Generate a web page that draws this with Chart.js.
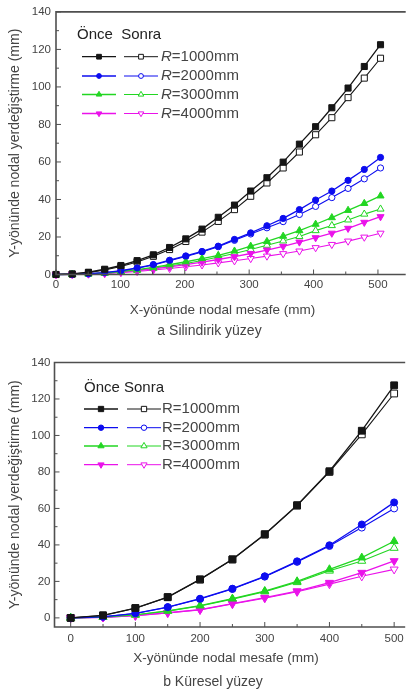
<!DOCTYPE html>
<html>
<head>
<meta charset="utf-8">
<script src="https://cdn.jsdelivr.net/npm/chart.js@4.4.1/dist/chart.umd.min.js"></script>
<style>
  html, body { margin: 0; padding: 0; background: #fff; width: 409px; height: 692px; overflow: hidden; }
  .wrap { position: absolute; left: 0; width: 409px; }
  #w1 { top: 0; height: 345px; }
  #w2 { top: 345px; height: 347px; }
</style>
</head>
<body>
<div class="wrap" id="w1"><canvas id="c1"></canvas></div>
<div class="wrap" id="w2"><canvas id="c2"></canvas></div>
<script>
// ---- (a) Silindirik yüzey: node positions along X (mm) ----
const cylX = [0, 25.2, 50.4, 75.6, 100.8, 126, 151.2, 176.4, 201.6, 226.8, 252, 277.2, 302.4, 327.6, 352.8, 378, 403.2, 428.4, 453.6, 478.8, 504];
// Y displacement before (Önce) and after (Sonra), per radius
const cylBefore1000 = [0, 0.3, 1.2, 2.8, 4.8, 7.4, 10.5, 14.4, 19.0, 24.2, 30.5, 37.0, 44.5, 51.6, 59.9, 69.5, 78.8, 88.9, 99.4, 110.9, 122.5];
const cylAfter1000  = [0, 0.2, 1.0, 2.4, 4.3, 6.7, 9.7, 13.3, 17.6, 22.6, 28.3, 34.6, 41.7, 48.8, 56.8, 65.3, 74.5, 83.6, 94.3, 104.7, 115.3];
const cylBefore2000 = [0, 0.1, 0.4, 1.0, 2.0, 3.5, 5.3, 7.6, 9.9, 12.3, 15.1, 18.7, 22.2, 26.0, 29.9, 34.6, 39.7, 44.5, 50.2, 56.0, 62.4];
const cylAfter2000  = [0, 0.1, 0.3, 0.9, 1.9, 3.3, 5.1, 7.3, 9.6, 12.0, 14.8, 18.2, 21.6, 24.9, 28.2, 32.0, 36.3, 41.0, 45.9, 51.0, 56.8];
const cylBefore3000 = [0, 0.1, 0.3, 0.8, 1.6, 2.6, 3.8, 5.2, 6.8, 8.5, 10.2, 12.5, 15.1, 17.6, 20.4, 23.4, 26.8, 30.3, 34.2, 37.9, 41.9];
const cylAfter3000  = [0, 0.05, 0.2, 0.6, 1.3, 2.2, 3.3, 4.5, 5.9, 7.5, 9.3, 11.2, 13.3, 15.6, 17.9, 20.3, 23.4, 26.1, 29.1, 32.2, 34.9];
const cylBefore4000 = [0, 0.1, 0.3, 0.7, 1.3, 2.1, 3.0, 4.1, 5.3, 6.6, 8.0, 9.5, 11.2, 13.0, 15.0, 17.3, 19.6, 22.0, 24.6, 27.8, 30.8];
const cylAfter4000  = [0, 0.05, 0.2, 0.5, 1.0, 1.6, 2.4, 3.2, 4.1, 5.1, 6.2, 7.3, 8.5, 9.8, 11.1, 12.5, 14.3, 16.0, 17.8, 19.9, 22.0];

// ---- (b) Küresel yüzey ----
const sphX = [0, 50, 100, 150, 200, 250, 300, 350, 400, 450, 500];
const sphBefore1000 = [0, 1.4, 5.4, 11.4, 21.1, 32.1, 45.9, 61.8, 80.4, 102.6, 127.5];
const sphAfter1000  = [0, 1.3, 5.3, 11.3, 21.0, 32.0, 45.6, 61.5, 80.0, 100.6, 123.0];
const sphBefore2000 = [0, 0.6, 2.5, 5.9, 10.5, 16.0, 22.8, 31.0, 39.8, 51.2, 63.3];
const sphAfter2000  = [0, 0.6, 2.4, 5.8, 10.3, 15.8, 22.6, 30.7, 39.4, 49.5, 60.0];
const sphBefore3000 = [0, 0.4, 1.7, 3.8, 6.7, 10.5, 14.7, 20.0, 26.6, 33.0, 42.0];
const sphAfter3000  = [0, 0.4, 1.6, 3.7, 6.5, 10.3, 14.4, 19.5, 25.8, 31.2, 38.3];
const sphBefore4000 = [0, 0.3, 1.2, 2.8, 4.5, 7.8, 11.1, 14.7, 19.3, 24.8, 31.2];
const sphAfter4000  = [0, 0.3, 1.2, 2.7, 4.4, 7.6, 10.8, 14.3, 18.5, 22.8, 26.6];

// Labels and tick settings
const radiusLabels = ['1000mm', '2000mm', '3000mm', '4000mm'];
const xTitle = 'X-yönünde nodal mesafe (mm)';
const yTitle = 'Y-yönünde nodal yerdeğiştirme (mm)';
const captionA = 'a Silindirik yüzey';
const captionB = 'b Küresel yüzey';
const xStep = 100, yStep = 20;

// Series styling
const colors = ['#151515', '#0c0cef', '#22d622', '#ea12ea'];
const styles = ['rect', 'circle', 'triangle', 'triangle'];
const rotations = [0, 0, 0, 180];
const FONT = '"Liberation Sans", Arial, sans-serif';
const AXIS = '#4f4f4f';
const TEXT = '#444444';

Chart.defaults.font.family = FONT;
Chart.defaults.animation = false;

function buildDatasets(xs, before, after, sizes) {
  const sets = [];
  before.forEach((ys, i) => sets.push({
    label: 'Önce R=' + radiusLabels[i],
    data: xs.map((x, k) => ({ x: x, y: ys[k] })),
    borderColor: colors[i], backgroundColor: colors[i],
    pointBackgroundColor: colors[i], pointBorderColor: colors[i],
    pointStyle: styles[i], pointRotation: rotations[i], pointRadius: sizes[i],
    pointBorderWidth: 1, borderWidth: 1.3, clip: false, order: 0
  }));
  after.forEach((ys, i) => sets.push({
    label: 'Sonra R=' + radiusLabels[i],
    data: xs.map((x, k) => ({ x: x, y: ys[k] })),
    borderColor: colors[i], backgroundColor: '#ffffff',
    pointBackgroundColor: '#ffffff', pointBorderColor: colors[i],
    pointStyle: styles[i], pointRotation: rotations[i], pointRadius: sizes[i],
    pointBorderWidth: 1, borderWidth: 1.1, clip: false, order: 1
  }));
  return sets;
}

// Frame (left, bottom, top lines), inward tick marks, legend block and texts
const decor = {
  id: 'decor',
  afterDraw(chart, args, o) {
    const { ctx, chartArea: a, scales: { x, y } } = chart;
    ctx.save();
    // frame
    ctx.strokeStyle = AXIS;
    ctx.lineWidth = 1.6;
    ctx.beginPath();
    ctx.moveTo(a.right + 2, a.top);
    ctx.lineTo(a.left, a.top);
    ctx.lineTo(a.left, a.bottom);
    ctx.lineTo(a.right + 2, a.bottom);
    ctx.stroke();
    // inward ticks
    ctx.lineWidth = 1;
    ctx.beginPath();
    for (let v = 0; v <= 500; v += 50) {
      const px = x.getPixelForValue(v);
      const len = v % 100 === 0 ? 5 : 3;
      ctx.moveTo(px, a.bottom);
      ctx.lineTo(px, a.bottom - len);
    }
    for (let v = 0; v <= 140; v += 10) {
      const py = y.getPixelForValue(v);
      const len = v % 20 === 0 ? 5 : 3;
      ctx.moveTo(a.left, py);
      ctx.lineTo(a.left + len, py);
    }
    ctx.stroke();

    // legend
    const L = o.legend;
    ctx.fillStyle = '#222';
    ctx.font = '15px ' + FONT;
    ctx.textBaseline = 'middle';
    ctx.textAlign = 'left';
    ctx.fillText(L.header, L.hx, L.hy);
    L.rows.forEach((ry, i) => {
      ctx.strokeStyle = colors[i];
      ctx.lineWidth = 1.3;
      ctx.beginPath();
      ctx.moveTo(L.l1[0], ry); ctx.lineTo(L.l1[1], ry);
      ctx.stroke();
      ctx.lineWidth = 1;
      ctx.beginPath();
      ctx.moveTo(L.l2[0], ry); ctx.lineTo(L.l2[1], ry);
      ctx.stroke();
      const opts = { pointStyle: styles[i], rotation: rotations[i], radius: o.sizes[i] * 0.78, borderWidth: 1 };
      ctx.fillStyle = colors[i];
      Chart.helpers.drawPoint(ctx, opts, (L.l1[0] + L.l1[1]) / 2, ry);
      ctx.fillStyle = '#ffffff';
      Chart.helpers.drawPoint(ctx, opts, (L.l2[0] + L.l2[1]) / 2, ry);
      ctx.fillStyle = TEXT;
      let tx = L.tx;
      ctx.font = (L.italicR ? 'italic ' : '') + '15px ' + FONT;
      ctx.fillText('R', tx, ry);
      tx += ctx.measureText('R').width;
      ctx.font = '15px ' + FONT;
      ctx.fillText('=' + radiusLabels[i], tx, ry);
    });

    // axis title and caption under the plot
    ctx.textAlign = 'center';
    ctx.fillStyle = TEXT;
    ctx.font = o.xTitleSize + 'px ' + FONT;
    ctx.fillText(xTitle, o.xTitlePos[0], o.xTitlePos[1]);
    ctx.font = '14px ' + FONT;
    ctx.fillText(o.caption, o.captionPos[0], o.captionPos[1]);
    ctx.restore();
  }
};

function makeChart(id, cfg) {
  return new Chart(document.getElementById(id), {
    type: 'line',
    data: { datasets: cfg.datasets },
    plugins: [decor],
    options: {
      responsive: true,
      maintainAspectRatio: false,
      layout: { padding: { top: cfg.top, right: 0, left: 0, bottom: 0 } },
      plugins: {
        legend: { display: false },
        tooltip: { enabled: false },
        decor: cfg.decor
      },
      scales: {
        x: {
          type: 'linear', position: 'bottom', min: cfg.xMin, max: cfg.xMax,
          grid: { display: false, drawTicks: false },
          border: { display: false },
          ticks: { stepSize: xStep, includeBounds: false, padding: cfg.xTickPad, color: TEXT, font: { size: 11.5 },
                   callback: v => (v % 100 === 0 ? v : '') },
          afterFit: s => { s.height = cfg.xHeight; }
        },
        y: {
          type: 'linear', min: cfg.yMin, max: 140,
          grid: { display: false, drawTicks: false },
          border: { display: false },
          ticks: { stepSize: yStep, includeBounds: false, padding: cfg.yTickPad, color: TEXT, font: { size: 11.5 } },
          title: { display: true, text: yTitle, color: TEXT, font: { size: 14 }, padding: { top: 6.5, bottom: 0 } },
          afterFit: s => { s.width = cfg.left; }
        }
      }
    }
  });
}

const sizesA = [4.3, 3.1, 4.1, 4.1];
const sizesB = [4.8, 3.5, 4.6, 4.6];

makeChart('c1', {
  datasets: buildDatasets(cylX,
    [cylBefore1000, cylBefore2000, cylBefore3000, cylBefore4000],
    [cylAfter1000, cylAfter2000, cylAfter3000, cylAfter4000], sizesA),
  top: 10, left: 56, xHeight: 70.5, xMin: 0, xMax: 540, yMin: 0, xTickPad: 3, yTickPad: 5,
  decor: {
    sizes: sizesA,
    legend: { header: 'Önce  Sonra', hx: 77, hy: 35, rows: [56.7, 76, 94.5, 113.5],
              l1: [82, 116], l2: [124, 158], tx: 161, italicR: true },
    xTitleSize: 13.5, xTitlePos: [222.5, 310], caption: captionA, captionPos: [209.5, 331.5]
  }
});

makeChart('c2', {
  datasets: buildDatasets(sphX,
    [sphBefore1000, sphBefore2000, sphBefore3000, sphBefore4000],
    [sphAfter1000, sphAfter2000, sphAfter3000, sphAfter4000], sizesB),
  top: 17.5, left: 54.5, xHeight: 65, xMin: -25, xMax: 514, yMin: -5, xTickPad: 5, yTickPad: 4,
  decor: {
    sizes: sizesB,
    legend: { header: 'Önce Sonra', hx: 84, hy: 42.5, rows: [64, 82.7, 101, 119.7],
              l1: [84, 118], l2: [127, 161], tx: 162, italicR: false },
    xTitleSize: 13.5, xTitlePos: [226, 313.3], caption: captionB, captionPos: [213, 336.7]
  }
});
</script>
</body>
</html>
